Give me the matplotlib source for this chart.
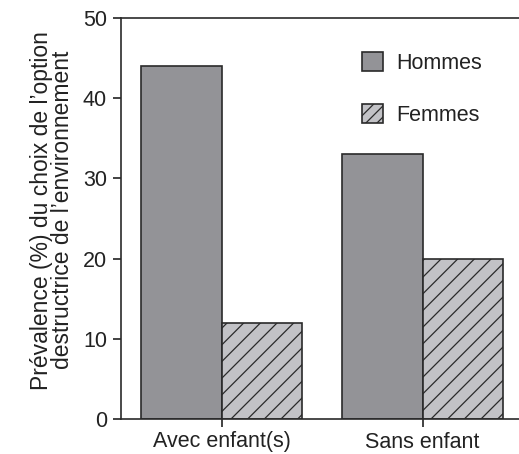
import numpy as np
import matplotlib
matplotlib.use("Agg")
import matplotlib.pyplot as plt
from matplotlib.patches import Patch

plt.rcParams['font.family'] = ['Liberation Sans', 'DejaVu Sans']
plt.rcParams['hatch.linewidth'] = 0.9

## data
groupes = ["Avec enfant(s)", "Sans enfant"]
hommes = [44, 33]
femmes = [12, 20]
ylabel = "Prévalence (%) du choix de l’option\ndestructrice de l’environnement"

txt = "#222222"
edge = "#2a2a2a"
fs = 15.5

fig = plt.figure(figsize=(5.19, 4.54), dpi=100)
ax = fig.add_axes([121/519, 35/454, 402/519, 401/454])

x = np.arange(len(groupes))
w = 0.4
ax.bar(x - w/2, hommes, w, color="#939397", edgecolor=edge, linewidth=1.2)
ax.bar(x + w/2, femmes, w, color="#c2c2c6", edgecolor=edge, linewidth=1.2, hatch="//")

ax.set_xlim(-0.5, 1.5)
ax.set_ylim(0, 50)
ax.set_yticks([0, 10, 20, 30, 40, 50])
ax.set_xticks(x)
ax.set_xticklabels(groupes)
ax.tick_params(axis="both", labelsize=fs, colors=txt, length=6, width=1.2, direction="out")
ax.tick_params(axis="x", pad=3)
ax.tick_params(axis="y", pad=4)
ax.spines["right"].set_visible(False)
for s in ["left", "bottom", "top"]:
    ax.spines[s].set_linewidth(1.2)
    ax.spines[s].set_color(edge)

ax.set_ylabel(ylabel, fontsize=16.5, color=txt, linespacing=0.9)
ax.yaxis.set_label_coords(-0.117, 0.521)

handles = [Patch(facecolor="#939397", edgecolor=edge, linewidth=1.2),
           Patch(facecolor="#c2c2c6", edgecolor=edge, linewidth=1.2, hatch="///")]
leg = ax.legend(handles, ["Hommes", "Femmes"], loc="upper left",
                bbox_to_anchor=(232/402, 1 - 25/401), frameon=False,
                fontsize=fs, handlelength=1.0, handleheight=1.0,
                labelspacing=1.4, handletextpad=0.6, borderaxespad=0)
for t in leg.get_texts():
    t.set_color(txt)

fig.savefig("out.png", dpi=100)
